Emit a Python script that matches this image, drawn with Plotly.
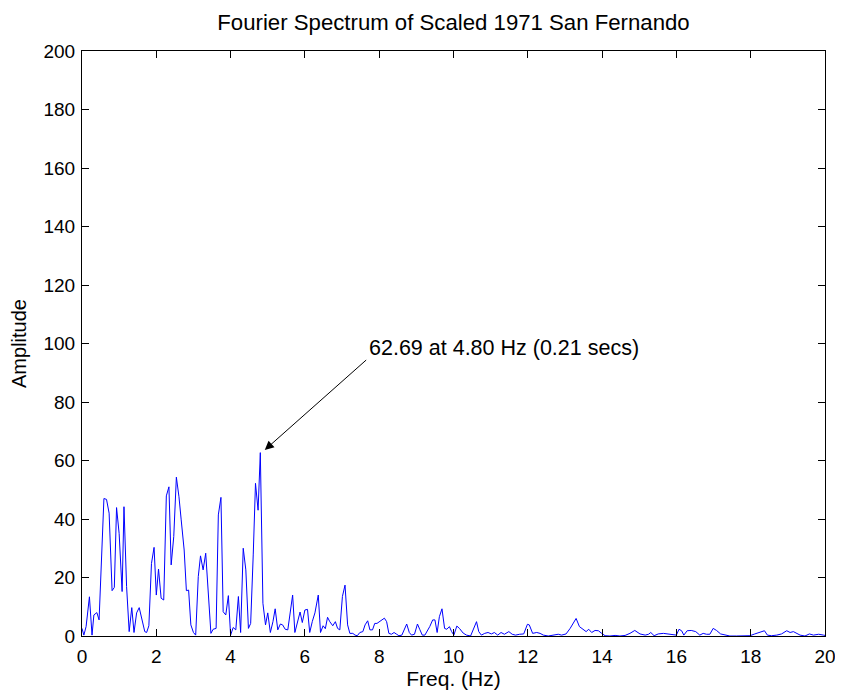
import plotly.graph_objects as go

# Fourier amplitude spectrum
freq = [0, 0.05, 0.11, 0.2, 0.27, 0.32, 0.4, 0.46, 0.59, 0.66, 0.73, 0.81, 0.87, 0.93, 1.0,
        1.08, 1.13, 1.2, 1.27, 1.34, 1.4, 1.47, 1.54, 1.62, 1.69, 1.74, 1.8, 1.87, 1.94, 2.0,
        2.06, 2.13, 2.2, 2.27, 2.34, 2.4, 2.47, 2.54, 2.61, 2.67, 2.75, 2.81, 2.87, 2.93, 3.0,
        3.06, 3.13, 3.19, 3.26, 3.33, 3.4, 3.47, 3.53, 3.61, 3.67, 3.74, 3.8, 3.87, 3.94, 4.0,
        4.07, 4.14, 4.21, 4.27, 4.34, 4.41, 4.48, 4.54, 4.61, 4.67, 4.74, 4.8, 4.87, 4.94, 5.0,
        5.07, 5.14, 5.2, 5.27, 5.34, 5.4, 5.47, 5.54, 5.6, 5.67, 5.73, 5.8, 5.87, 5.93, 6.0,
        6.07, 6.13, 6.2, 6.27, 6.36, 6.42, 6.49, 6.55, 6.61, 6.67, 6.75, 6.82, 6.88, 6.94, 7.01,
        7.08, 7.15, 7.21, 7.29, 7.35, 7.41, 7.48, 7.56, 7.62, 7.69, 7.75, 7.82, 7.88, 7.94, 8.0,
        8.08, 8.14, 8.2, 8.26, 8.33, 8.4, 8.47, 8.53, 8.61, 8.67, 8.74, 8.81, 8.87, 8.95, 9.03,
        9.09, 9.16, 9.23, 9.29, 9.36, 9.44, 9.5, 9.56, 9.62, 9.69, 9.76, 9.82, 9.89, 9.95, 10.01,
        10.09, 10.16, 10.26, 10.35, 10.46, 10.53, 10.62, 10.68, 10.75, 10.84, 10.93, 11.02, 11.1,
        11.19, 11.28, 11.37, 11.49, 11.58, 11.67, 11.78, 11.89, 11.99, 12.04, 12.13, 12.24, 12.33,
        12.42, 12.55, 12.69, 12.82, 12.91, 13.03, 13.14, 13.21, 13.3, 13.39, 13.48, 13.57, 13.64,
        13.72, 13.81, 13.9, 13.99, 14.08, 14.21, 14.35, 14.48, 14.62, 14.75, 14.88, 15.02, 15.16,
        15.25, 15.31, 15.4, 15.51, 15.65, 15.78, 15.92, 16.0, 16.07, 16.14, 16.2, 16.29, 16.4,
        16.52, 16.63, 16.72, 16.81, 16.9, 16.99, 17.08, 17.19, 17.31, 17.44, 17.62, 17.8, 17.98,
        18.11, 18.25, 18.37, 18.45, 18.56, 18.7, 18.83, 18.97, 19.06, 19.15, 19.24, 19.33, 19.46,
        19.58, 19.69, 19.83, 19.96, 20.0]
amp = [2.6, 0.3, 3.2, 13.4, 0.3, 7.2, 8.0, 5.5, 47, 46.7, 42, 15.5, 16.6, 43.9, 35,
       15.2, 44.2, 16.9, 1.5, 9.7, 1.2, 7.9, 9.7, 5.5, 1.5, 1.2, 3.5, 24.8, 30.3, 14,
       22.9, 12.9, 12.3, 47.9, 51, 24.3, 34, 54.3, 47.6, 39.7, 29.4, 15.5, 15.7, 3.8, 1.2,
       0.3, 20.3, 27.4, 22.6, 28.3, 14, 0.9, 2.3, 2.6, 41.4, 47.4, 8.3, 7.2, 13.8, 0.3,
       2.9, 2.1, 13.5, 1.2, 30, 22.6, 2.6, 4.3, 28, 52.2, 43, 62.69, 11.2, 3.8, 7.9,
       1.2, 4.9, 9.3, 2.1, 4.1, 3.8, 2.3, 2.1, 7.9, 14, 1.2, 4.9, 8.2, 4.6, 8.9,
       9.1, 1.2, 5.0, 7.9, 14, 1.2, 3.5, 2.5, 6.4, 4.9, 3.5, 4.9, 2.6, 2.1, 13.5,
       17.4, 3.8, 0.9, 0.9, 0.3, 0.1, 1.2, 1.5, 3.8, 5.2, 2.1, 2.1, 4.3, 4.3, 4.9,
       5.7, 6.1, 4.9, 0.9, 0.6, 1.2, 0.6, 0.1, 0.3, 2.1, 4.1, 1.2, 0.3, 0.6, 4.1,
       2.3, 0.3, 0.3, 1.5, 3.2, 5.5, 5.5, 1.2, 6.6, 9.3, 2.6, 2.3, 3.2, 1.5, 0.3,
       3.4, 2.6, 1.0, 0.3, 0.0, 1.9, 4.9, 1.5, 0.3, 0.9, 1.2, 0.7, 1.2,
       0.3, 1.2, 0.6, 1.5, 0.6, 0.3, 0.6, 0.7, 4.0, 3.8, 0.9, 1.2, 0.9,
       0.3, 0.0, 0.3, 0.6, 0.3, 0.7, 2.6, 4.3, 6.0, 3.2, 2.3, 1.5, 2.3,
       1.2, 1.9, 1.8, 0.9, 0.1, 0.0, 0.2, 0.0, 0.2, 0.9, 1.9, 0.7, 0.3,
       0.6, 1.2, 0.1, 0.7, 0.9, 0.7, 0.6, 0.3, 2.3, 1.8, 0.3, 1.8, 1.9,
       1.5, 0.3, 0.9, 0.6, 0.6, 2.6, 1.9, 0.7, 0.3, 0.0, 0.0, 0.0, 0.1,
       0.7, 1.2, 1.8, 0.3, 0.1, 0.3, 0.7, 1.8, 1.2, 1.5, 0.9, 0.3, 0.0,
       0.7, 0.3, 0.6, 0.3, 0.2]

peak_f = 4.80
peak_amp = 62.69
label = f"{peak_amp:.2f} at {peak_f:.2f} Hz ({1/peak_f:.2f} secs)"

font = "Liberation Sans, Arial, Helvetica, sans-serif"

fig = go.Figure(go.Scatter(x=freq, y=amp, mode='lines',
                           line=dict(color='#0000FF', width=1), hoverinfo='x+y'))

# arrow pointing at the peak, text placed at the tail
fig.add_annotation(x=4.92, y=63.6, ax=7.69, ay=94.8, xref='x', yref='y',
                   axref='x', ayref='y', text='', showarrow=True,
                   arrowhead=2, arrowsize=1.8, arrowwidth=1, arrowcolor='black')
fig.add_annotation(x=7.67, y=98.5, xref='x', yref='y', text=label, showarrow=False,
                   xanchor='left', yanchor='middle', font=dict(size=21.5, color='black'))

axis_style = dict(showline=True, linecolor='black', linewidth=1, mirror='allticks',
                  ticks='inside', ticklen=7, tickcolor='black', showgrid=False,
                  zeroline=False, automargin=False, tickfont=dict(size=19, color='black'))

# page body has an 8px margin, so the figure is sized 8px smaller
fig.update_layout(
    width=835, height=686,
    paper_bgcolor='white', plot_bgcolor='white',
    font=dict(family=font, color='black'),
    margin=dict(l=74, r=18, t=43, b=58),
    showlegend=False,
    title=dict(text='Fourier Spectrum of Scaled 1971 San Fernando', x=0.5, xref='paper',
               y=1 - 14 / 686, yref='container', yanchor='middle', font=dict(size=22.2)),
    xaxis=dict(range=[0, 20], dtick=2, ticklabelstandoff=3,
               title=dict(text='Freq. (Hz)', font=dict(size=21), standoff=0),
               **axis_style),
    yaxis=dict(range=[0, 200], dtick=20, ticklabelstandoff=2,
               title=dict(text='Amplitude', font=dict(size=20), standoff=13),
               **axis_style),
)

fig.write_html("out.html")
